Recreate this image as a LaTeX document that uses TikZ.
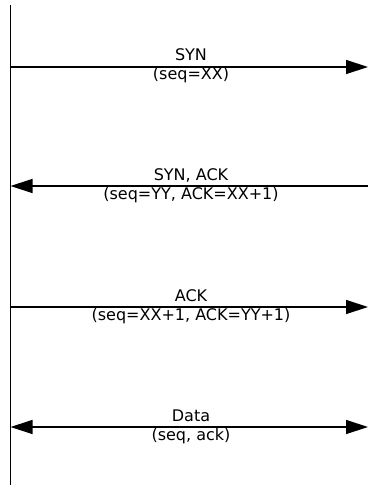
\documentclass[tikz,border=0pt]{standalone}
\usepackage{fontspec}
\setmainfont{DejaVu Sans}
\usetikzlibrary{arrows.meta}
\begin{document}
\begin{tikzpicture}[x=1pt,y=-1pt,
  msg/.style={line width=1.3pt,-{Triangle[length=22pt,width=14pt]}},
  both/.style={line width=1.3pt,{Triangle[length=22pt,width=14pt]}-{Triangle[length=22pt,width=14pt]}},
  lbl/.style={anchor=base,inner sep=0pt,font=\fontsize{16}{18}\selectfont}]
  \useasboundingbox (0,0) rectangle (368,487);
  % timeline
  \coordinate (top) at (10.5,5);
  \coordinate (bot) at (10.5,485);
  \draw[line width=1.3pt] (top) -- (bot);
  % message ends
  \coordinate (l1) at (10.5,67);    \coordinate (r1) at (368,67);
  \coordinate (l2) at (10.5,186);   \coordinate (r2) at (368,186);
  \coordinate (l3) at (10.5,307);   \coordinate (r3) at (368,307);
  \coordinate (l4) at (10.5,427);   \coordinate (r4) at (368,427);
  % messages
  \draw[msg] (l1) -- (r1);
  \draw[msg] (r2) -- (l2);
  \draw[msg] (l3) -- (r3);
  \draw[both] (l4) -- (r4);
  % labels
  \node[lbl] (t1) at (191,61) {SYN};
  \node[lbl] (b1) at (191,79.5) {(seq=XX)};
  \node[lbl] (t2) at (191,180.5) {SYN, ACK};
  \node[lbl] (b2) at (191,199) {(seq=YY, ACK=XX+1)};
  \node[lbl] (t3) at (191,301.5) {ACK};
  \node[lbl] (b3) at (191,320) {(seq=XX+1, ACK=YY+1)};
  \node[lbl] (t4) at (191,421.5) {Data};
  \node[lbl] (b4) at (191,440) {(seq, ack)};
\end{tikzpicture}
\end{document}
